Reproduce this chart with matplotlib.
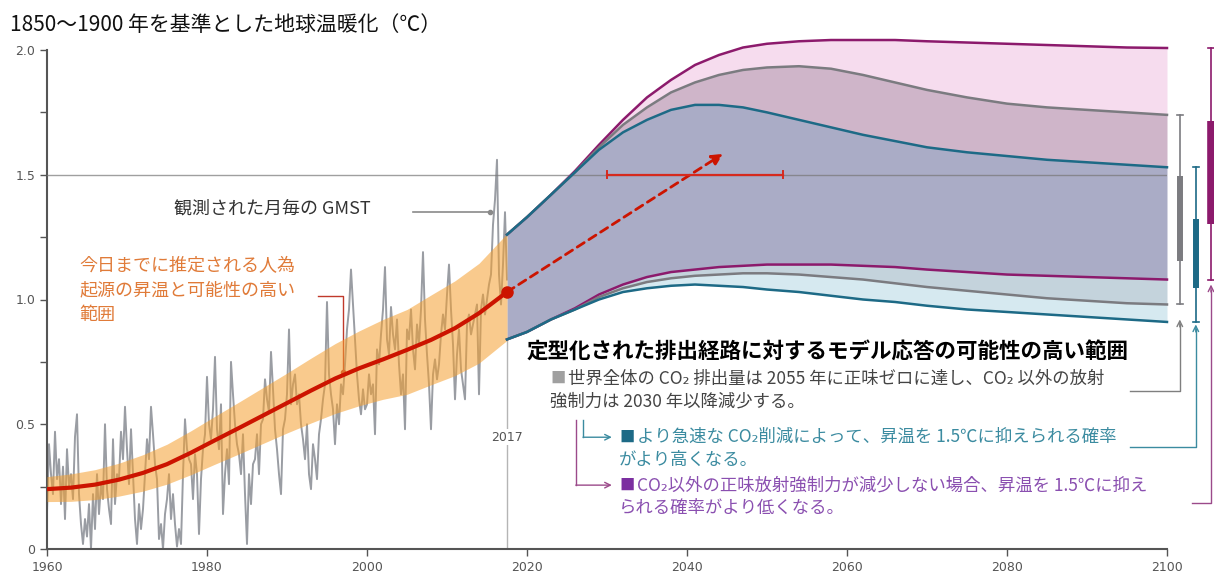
import numpy as np
import matplotlib
matplotlib.use("Agg")
import matplotlib.pyplot as plt

plt.rcParams['font.family'] = ['Noto Sans CJK JP', 'DejaVu Sans']

# --- observed monthly GMST, sampled quarterly from 1960.0 to 2017.5 ---
gmst_start = 1960.0
gmst = [
    0.15, 0.42, 0.30, 0.22,  0.47, 0.28, 0.36, 0.18,  0.33, 0.12, 0.40, 0.25,
    0.30, 0.20, 0.45, 0.54,  0.22, 0.10, 0.02, 0.12,  0.05, 0.18, 0.00, 0.22,
    0.08, 0.30, 0.14, 0.26,  0.20, 0.50, 0.24, 0.16,  0.10, 0.44, 0.18, 0.30,
    0.28, 0.47, 0.36, 0.57,  0.40, 0.26, 0.48, 0.30,  0.12, 0.02, 0.18, 0.08,
    0.16, 0.30, 0.44, 0.36,  0.57, 0.46, 0.34, 0.28,  0.04, 0.10, 0.00, 0.14,
    0.20, 0.30, 0.12, 0.22,  0.10, 0.01, 0.08, 0.02,  0.30, 0.52, 0.40, 0.36,
    0.34, 0.20, 0.38, 0.30,  0.06, 0.28, 0.40, 0.46,  0.69, 0.50, 0.44, 0.56,
    0.77, 0.48, 0.40, 0.58,  0.14, 0.30, 0.40, 0.26,  0.75, 0.62, 0.50, 0.42,
    0.38, 0.30, 0.46, 0.22,  0.02, 0.30, 0.18, 0.34,  0.36, 0.46, 0.30, 0.50,
    0.52, 0.68, 0.60, 0.55,  0.79, 0.64, 0.48, 0.40,  0.30, 0.22, 0.48, 0.52,
    0.62, 0.88, 0.58, 0.66,  0.70, 0.58, 0.62, 0.50,  0.44, 0.36, 0.50, 0.30,
    0.24, 0.42, 0.36, 0.28,  0.46, 0.52, 0.60, 0.66,  0.99, 0.70, 0.62, 0.56,
    0.42, 0.58, 0.50, 0.66,  0.62, 0.74, 0.88, 0.96,  1.12, 0.98, 0.84, 0.70,
    0.60, 0.54, 0.64, 0.56,  0.58, 0.70, 0.62, 0.66,  0.46, 0.80, 0.74, 0.86,
    0.96, 1.13, 0.84, 0.78,  0.97, 0.86, 0.80, 0.92,  0.74, 0.62, 0.70, 0.48,
    0.88, 0.84, 0.96, 0.80,  0.72, 0.90, 0.82, 0.96,  1.19, 0.92, 0.78, 0.66,
    0.48, 0.70, 0.76, 0.68,  0.74, 0.86, 0.94, 0.88,  1.02, 1.14, 0.96, 0.82,
    0.60, 0.78, 0.88, 0.72,  0.66, 0.60, 0.90, 0.94,  0.86, 0.90, 0.94, 0.98,
    0.62, 0.96, 1.02, 0.94,  1.00, 1.06, 1.10, 1.30,  1.40, 1.56, 1.10, 0.98,
    1.14, 1.35, 1.08,
]

# --- estimated human-induced warming and likely range ---
trend_years = [1960, 1963, 1966, 1969, 1972, 1975, 1978, 1981, 1984, 1987,
               1990, 1993, 1996, 1999, 2002, 2005, 2008, 2011, 2014, 2017.5]
trend_mid = [0.240, 0.246, 0.258, 0.278, 0.305, 0.340, 0.386, 0.436, 0.485, 0.535,
             0.585, 0.635, 0.683, 0.724, 0.760, 0.798, 0.838, 0.885, 0.945, 1.03]
trend_lo = [0.190, 0.191, 0.198, 0.212, 0.232, 0.260, 0.298, 0.340, 0.381, 0.423,
            0.465, 0.505, 0.543, 0.574, 0.600, 0.620, 0.658, 0.695, 0.745, 0.836]
trend_hi = [0.290, 0.301, 0.318, 0.344, 0.378, 0.420, 0.474, 0.532, 0.589, 0.647,
            0.705, 0.765, 0.823, 0.874, 0.920, 0.960, 1.018, 1.075, 1.145, 1.264]

# --- model responses to stylized pathways ---
proj_years = [2017.5, 2020, 2023, 2026, 2029, 2032, 2035, 2038, 2041, 2044, 2047, 2050,
              2054, 2058, 2062, 2066, 2070, 2075, 2080, 2085, 2090, 2095, 2100]
teal_hi = [1.26, 1.33, 1.42, 1.51, 1.60, 1.67, 1.72, 1.76, 1.78, 1.78, 1.77, 1.75,
           1.72, 1.69, 1.66, 1.635, 1.61, 1.59, 1.575, 1.56, 1.55, 1.54, 1.53]
gray_hi = [1.26, 1.33, 1.42, 1.51, 1.61, 1.70, 1.77, 1.83, 1.87, 1.90, 1.92, 1.93,
           1.935, 1.925, 1.90, 1.87, 1.84, 1.81, 1.785, 1.77, 1.76, 1.75, 1.74]
purple_hi = [1.26, 1.33, 1.42, 1.515, 1.62, 1.72, 1.81, 1.88, 1.94, 1.98, 2.01, 2.025,
             2.035, 2.04, 2.04, 2.04, 2.035, 2.03, 2.025, 2.02, 2.015, 2.01, 2.008]
teal_lo = [0.84, 0.87, 0.92, 0.96, 1.00, 1.03, 1.045, 1.055, 1.06, 1.055, 1.05, 1.04,
           1.03, 1.015, 1.00, 0.99, 0.975, 0.96, 0.95, 0.94, 0.93, 0.92, 0.91]
gray_lo = [0.84, 0.87, 0.92, 0.96, 1.01, 1.045, 1.07, 1.085, 1.095, 1.10, 1.105, 1.105,
           1.10, 1.09, 1.08, 1.065, 1.05, 1.035, 1.02, 1.005, 0.995, 0.985, 0.98]
purple_lo = [0.84, 0.87, 0.92, 0.965, 1.02, 1.06, 1.09, 1.11, 1.12, 1.13, 1.135, 1.14,
             1.14, 1.14, 1.135, 1.13, 1.12, 1.11, 1.10, 1.095, 1.09, 1.085, 1.08]

# 2100 ranges (box = central part)
box_lo = {"gray": 1.156, "teal": 1.048, "purple": 1.304}
box_hi = {"gray": 1.496, "teal": 1.324, "purple": 1.716}

# crossing of 1.5 C, and the "now" marker
cross_from, cross_to = 2030, 2052
now_year = 2017.5
arrow_to = (2044.5, 1.584)

C_TEAL = "#1d6a86"
C_GRAY = "#7b7b80"
C_PURPLE = "#8c1a6c"
C_RED = "#cc1400"

fig = plt.figure(figsize=(12.14, 5.77), dpi=100)
ax = fig.add_axes([47 / 1214, 28 / 577, 1120 / 1214, 499 / 577])
ax.set_xlim(1960, 2100)
ax.set_ylim(0, 2.0)

# observed
gyears = gmst_start + 0.25 * np.arange(len(gmst))
ax.plot(gyears, gmst, color="#9a9da3", lw=1.4, zorder=2)

# likely range of human-induced warming
ax.fill_between(trend_years, trend_lo, trend_hi, color="#f5a030", alpha=0.55,
                lw=0, zorder=3)
ax.plot(trend_years, trend_mid, color=C_RED, lw=3, solid_capstyle="round",
        solid_joinstyle="round", zorder=4)
ax.plot([now_year], [trend_mid[-1]], "o", color=C_RED, ms=8, zorder=5)

# projection fans as non-overlapping layers (the top one runs above 2.0)
py = np.array(proj_years)
ax.fill_between(py, gray_hi, purple_hi, color="#f6dcee", lw=0, zorder=2, clip_on=False)
ax.fill_between(py, teal_hi, gray_hi, color="#cfb5c9", lw=0, zorder=2, clip_on=False)
ax.fill_between(py, purple_lo, teal_hi, color="#aaacc6", lw=0, zorder=2, clip_on=False)
ax.fill_between(py, gray_lo, purple_lo, color="#c4d3dc", lw=0, zorder=2, clip_on=False)
ax.fill_between(py, teal_lo, gray_lo, color="#d6e9f0", lw=0, zorder=2, clip_on=False)
for lo, hi, c in [(purple_lo, purple_hi, C_PURPLE), (gray_lo, gray_hi, C_GRAY),
                  (teal_lo, teal_hi, C_TEAL)]:
    ax.plot(py, hi, color=c, lw=1.8, zorder=4, clip_on=False)
    ax.plot(py, lo, color=c, lw=1.8, zorder=4, clip_on=False)

# 1.5 C reference line
ax.axhline(1.5, color="#777777", lw=1, alpha=0.7, zorder=3)

# year the observations end
ax.plot([now_year, now_year], [0, 0.84], color="#b5b5b5", lw=1, zorder=1)
ax.text(now_year, 0.448, "2017", ha="center", va="center", fontsize=9,
        color="#555555", family="DejaVu Sans",
        bbox=dict(fc="white", ec="none", pad=1), zorder=6)

# extrapolated trend and the window for reaching 1.5 C
ax.annotate("", xy=arrow_to, xytext=(now_year, trend_mid[-1]),
            arrowprops=dict(arrowstyle="-|>", color=C_RED, lw=2,
                            linestyle=(0, (3, 2)), mutation_scale=16,
                            shrinkA=0, shrinkB=0), zorder=6)
ax.plot([cross_from, cross_to], [1.5, 1.5], color="#d62a1e", lw=1.6, zorder=6)
for cx in (cross_from, cross_to):
    ax.plot([cx, cx], [1.485, 1.515], color="#d62a1e", lw=1.4, zorder=6)

# ranges at 2100, drawn to the right of the axes
bars = [("gray", 2101.6, gray_lo[-1], gray_hi[-1], C_GRAY, 4.3),
        ("teal", 2103.6, teal_lo[-1], teal_hi[-1], C_TEAL, 4.3),
        ("purple", 2105.5, purple_lo[-1], purple_hi[-1], C_PURPLE, 5.5)]
for name, bx, wlo, whi, c, bw in bars:
    ax.plot([bx, bx], [wlo, whi], color=c, lw=1.2, clip_on=False)
    ax.plot([bx - 0.35, bx + 0.35], [wlo, wlo], color=c, lw=1.2, clip_on=False)
    ax.plot([bx - 0.35, bx + 0.35], [whi, whi], color=c, lw=1.2, clip_on=False)
    ax.plot([bx, bx], [box_lo[name], box_hi[name]], color=c, lw=bw,
            solid_capstyle="butt", clip_on=False)

# connectors from the 2100 ranges to their notes
for bx, top, bottom, left, c in [(2101.6, 0.92, 0.632, 2095.4, "#7f7f7f"),
                                 (2103.6, 0.90, 0.408, 2095.4, "#3b8ba0"),
                                 (2105.5, 1.06, 0.186, 2103.1, "#9b4a8a")]:
    ax.plot([left, bx, bx], [bottom, bottom, top - 0.02], color=c, lw=1,
            clip_on=False)
    ax.annotate("", xy=(bx, top), xytext=(bx, top - 0.03),
                arrowprops=dict(arrowstyle="->", color=c, lw=1,
                                shrinkA=0, shrinkB=0),
                annotation_clip=False)

for vx, ybot, c in [(2027.0, 0.448, "#3b8ba0"), (2026.1, 0.256, "#9b4a8a")]:
    ax.plot([vx, vx], [0.516, ybot], color=c, lw=1)
    ax.annotate("", xy=(2030.6, ybot), xytext=(vx, ybot),
                arrowprops=dict(arrowstyle="->", color=c, lw=1,
                                shrinkA=0, shrinkB=0))

# labels for the observed record
ax.text(2000.4, 1.364, "観測された月毎の GMST", ha="right", va="center",
        fontsize=13, color="#333333")
ax.plot([2005.75, 2015.4], [1.352, 1.352], color="#8a8a8a", lw=1.2)
ax.plot([2015.4], [1.352], "o", color="#8a8a8a", ms=3)

ax.text(1964.1, 1.036, "今日までに推定される人為\n起源の昇温と可能性の高い\n範囲",
        ha="left", va="center", fontsize=13, color="#e07b39", linespacing=1.45)
ax.plot([1993.9, 1997.0, 1997.0], [1.016, 1.016, 0.708], color="#c0392b", lw=1)
ax.plot([1997.0], [0.708], "o", color="#c0392b", ms=3)

# notes for the projections
ax.text(2019.9, 0.788, "定型化された排出経路に対するモデル応答の可能性の高い範囲",
        ha="left", va="center", fontsize=15.5, fontweight="bold", color="black",
        clip_on=False)
notes = [
    (2022.9, 0.684, "#a0a0a0", "世界全体の CO₂ 排出量は 2055 年に正味ゼロに達し、CO₂ 以外の放射",
     "強制力は 2030 年以降減少する。", "#444444"),
    (2031.5, 0.448, C_TEAL, "より急速な CO₂削減によって、昇温を 1.5℃に抑えられる確率",
     "がより高くなる。", "#3b8ba0"),
    (2031.5, 0.256, "#7b2fa0", "CO₂以外の正味放射強制力が減少しない場合、昇温を 1.5℃に抑え",
     "られる確率がより低くなる。", "#8a4fb0"),
]
for nx, ny, sq, line1, line2, tc in notes:
    ax.text(nx, ny, "■", ha="left", va="center", fontsize=11, color=sq,
            clip_on=False)
    ax.text(nx + 2.2, ny, line1, ha="left", va="center", fontsize=12.5,
            color=tc, clip_on=False)
    ax.text(nx, ny - 0.092, line2, ha="left", va="center", fontsize=12.5,
            color=tc, clip_on=False)

# axes styling
for s in ("top", "right"):
    ax.spines[s].set_visible(False)
for s in ("left", "bottom"):
    ax.spines[s].set_color("#555555")
    ax.spines[s].set_linewidth(1.5)
ax.set_yticks([0, 0.5, 1.0, 1.5, 2.0])
ax.set_yticklabels(["0", "0.5", "1.0", "1.5", "2.0"])
ax.set_yticks([0.25, 0.75, 1.25, 1.75], minor=True)
ax.set_xticks(range(1960, 2101, 20))
ax.tick_params(axis="both", which="both", direction="out", length=5,
               width=1, color="#555555", labelcolor="#555555", labelsize=9)
for lab in ax.get_xticklabels() + ax.get_yticklabels():
    lab.set_family("DejaVu Sans")

fig.text(10 / 1214, 1 - 25 / 577, "1850～1900 年を基準とした地球温暖化（℃）",
         ha="left", va="center", fontsize=15, color="#111111")

fig.savefig("out.png", dpi=100)
